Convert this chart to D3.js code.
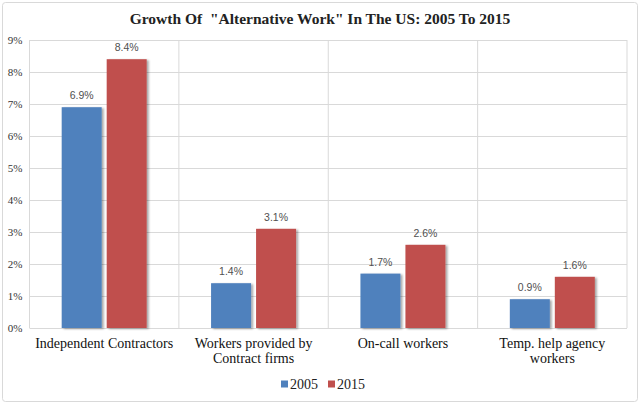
<!DOCTYPE html>
<html>
<head>
<meta charset="utf-8">
<script src="https://cdn.jsdelivr.net/npm/d3@7"></script>
<style>
  body { margin: 0; background: #fff; }
  svg { display: block; }
</style>
</head>
<body>
<svg id="chart" width="640" height="404"></svg>
<script>
const categories = ["Independent Contractors", "Workers provided by\nContract firms", "On-call workers", "Temp. help agency\nworkers"];
const years = ["2005", "2015"];
const values2005 = [6.9, 1.4, 1.7, 0.9];
const values2015 = [8.4, 3.1, 2.6, 1.6];
const yTicks = [0, 1, 2, 3, 4, 5, 6, 7, 8, 9];
const colors = ["#4f81bd", "#c0504d"];

const SERIF = "'Liberation Serif', 'Times New Roman', serif";
const SANS = "'Liberation Sans', Arial, sans-serif";

const data = categories.map((c, i) => ({ cat: c, vals: [values2005[i], values2015[i]] }));

const svg = d3.select("#chart"),
  margin = {top: 40, right: 13, bottom: 76, left: 29.5},
  width = +svg.attr("width") - margin.left - margin.right,
  height = +svg.attr("height") - margin.top - margin.bottom;

// outer frame
svg.append("rect")
  .attr("x", 2.5).attr("y", 2.5)
  .attr("width", 635).attr("height", 399)
  .attr("rx", 3)
  .attr("fill", "#fff")
  .attr("stroke", "#d9d9d9");

const defs = svg.append("defs");
defs.append("filter").attr("id", "shadow")
  .attr("x", "-20%").attr("y", "-10%").attr("width", "150%").attr("height", "130%")
  .append("feDropShadow")
  .attr("dx", 2).attr("dy", 1).attr("stdDeviation", 1)
  .attr("flood-color", "#000").attr("flood-opacity", 0.35);

svg.append("text")
  .attr("x", 320).attr("y", 24)
  .attr("text-anchor", "middle")
  .style("font-family", SERIF)
  .style("font-weight", "bold")
  .style("font-size", "15.5px")
  .style("white-space", "pre")
  .attr("fill", "#222")
  .text('Growth Of  "Alternative Work" In The US: 2005 To 2015');

const g = svg.append("g").attr("transform", "translate(" + margin.left + "," + margin.top + ")");

const x0 = d3.scaleBand().domain(categories).range([0, width]);
const groupW = 85;
const x1 = d3.scaleBand().domain(years).range([0, groupW]).paddingInner(2 - groupW / 45);
const y = d3.scaleLinear().domain([0, 9]).range([height, 0]);

// horizontal gridlines + y labels
g.append("g")
  .call(d3.axisLeft(y).tickValues(yTicks).tickSize(-width).tickFormat(d => d + "%"))
  .call(a => a.select(".domain").remove())
  .call(a => a.selectAll("line").attr("stroke", "#d9d9d9"))
  .call(a => a.selectAll("text")
    .attr("x", -7)
    .style("font-family", SERIF)
    .style("font-size", "11px")
    .attr("fill", "#333"));

// vertical separators
g.append("g")
  .selectAll("line")
  .data(categories.concat(["end"]))
  .join("line")
  .attr("x1", (d, i) => i < categories.length ? x0(d) : width)
  .attr("x2", (d, i) => i < categories.length ? x0(d) : width)
  .attr("y1", 0).attr("y2", height)
  .attr("stroke", "#d9d9d9");

const groups = g.append("g")
  .selectAll("g")
  .data(data)
  .join("g")
  .attr("transform", d => "translate(" + (x0(d.cat) + (x0.bandwidth() - groupW) / 2) + ",0)");

groups.selectAll("rect")
  .data(d => d.vals.map((v, i) => ({ year: years[i], v: v, i: i })))
  .join("rect")
  .attr("x", d => x1(d.year))
  .attr("y", d => y(d.v))
  .attr("width", x1.bandwidth())
  .attr("height", d => height - y(d.v))
  .attr("fill", d => colors[d.i])
  .attr("filter", "url(#shadow)");

groups.selectAll("text")
  .data(d => d.vals.map((v, i) => ({ year: years[i], v: v })))
  .join("text")
  .attr("x", d => x1(d.year) + x1.bandwidth() / 2)
  .attr("y", d => y(d.v) - 8)
  .attr("text-anchor", "middle")
  .style("font-family", SANS)
  .style("font-size", "10.5px")
  .attr("fill", "#505050")
  .text(d => d.v.toFixed(1) + "%");

// category labels
const xAxis = g.append("g").attr("transform", "translate(0," + height + ")")
  .call(d3.axisBottom(x0).tickSize(0).tickFormat(""))
  .call(a => a.select(".domain").remove());

xAxis.selectAll(".tick").append("text")
  .attr("text-anchor", "middle")
  .style("font-family", SERIF)
  .style("font-size", "14px")
  .attr("fill", "#111")
  .selectAll("tspan")
  .data(d => d.split("\n"))
  .join("tspan")
  .attr("x", 0)
  .attr("y", (d, i) => 20 + i * 15)
  .text(d => d);

// legend
const legend = svg.append("g").attr("transform", "translate(281,384)");
const items = legend.selectAll("g")
  .data(years)
  .join("g")
  .attr("transform", (d, i) => "translate(" + (i * 47) + ",0)");
items.append("rect")
  .attr("x", 0).attr("y", -3.5)
  .attr("width", 7).attr("height", 7)
  .attr("fill", (d, i) => colors[i]);
items.append("text")
  .attr("x", 9).attr("y", 4.5)
  .style("font-family", SERIF)
  .style("font-size", "14px")
  .attr("fill", "#222")
  .text(d => d);
</script>
</body>
</html>
